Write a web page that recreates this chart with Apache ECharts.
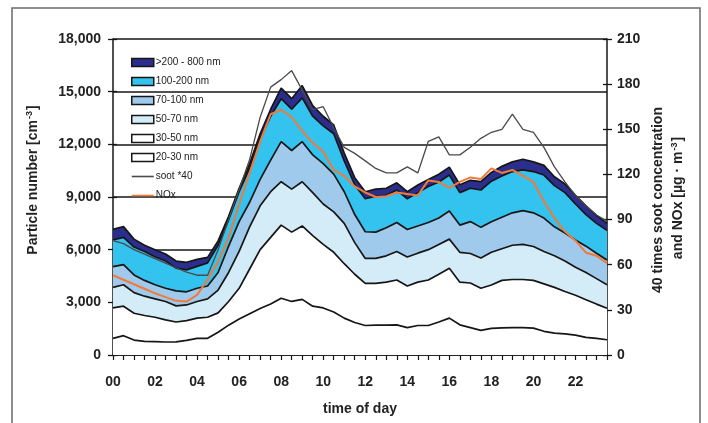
<!DOCTYPE html>
<html>
<head>
<meta charset="utf-8">
<script src="https://cdn.jsdelivr.net/npm/echarts@6/dist/echarts.min.js"></script>
<style>
  html, body { margin: 0; padding: 0; background: #fff; }
  #chart { width: 708px; height: 423px; }
</style>
</head>
<body>
<div id="chart"></div>
<script>
// Half-hourly time of day
const timeOfDay = [
  '00:00','00:30','01:00','01:30','02:00','02:30','03:00','03:30',
  '04:00','04:30','05:00','05:30','06:00','06:30','07:00','07:30',
  '08:00','08:30','09:00','09:30','10:00','10:30','11:00','11:30',
  '12:00','12:30','13:00','13:30','14:00','14:30','15:00','15:30',
  '16:00','16:30','17:00','17:30','18:00','18:30','19:00','19:30',
  '20:00','20:30','21:00','21:30','22:00','22:30','23:00','23:30'
];

// Particle number per size class [cm^-3], stacked from the smallest class up
const n20to30 = [950,1100,850,780,760,740,750,830,950,950,1300,1700,2050,2350,2650,2900,
  3230,3050,3170,2780,2680,2450,2100,1850,1680,1700,1700,1720,1560,1680,1680,1880,
  2100,1720,1560,1400,1520,1550,1560,1560,1530,1350,1250,1200,1130,1000,950,870];
const n30to50 = [1730,1680,1530,1470,1390,1260,1130,1130,1150,1200,1100,1350,1750,2550,3350,3800,
  4170,3950,4180,4020,3620,3400,3100,2750,2400,2380,2450,2550,2370,2470,2590,2720,
  2840,2430,2540,2400,2470,2700,2740,2740,2720,2700,2600,2420,2270,2150,1950,1790];
const n50to70 = [1170,1220,1170,1100,1050,1050,920,890,950,1050,1300,1650,2100,2400,2500,2600,
  2470,2450,2520,2450,2300,2300,2300,1800,1420,1420,1500,1630,1650,1650,1730,1700,
  1660,1700,1680,1730,1860,1800,1950,2000,1930,1850,1800,1730,1600,1550,1450,1340];
const n70to100 = [1180,1150,1010,900,800,750,850,750,750,730,1000,1500,1700,1400,1500,1800,
  2280,2200,2280,2150,2300,2150,1800,1600,1520,1500,1600,1650,1570,1550,1550,1500,
  1600,1550,1820,1740,1740,1800,1850,1920,1920,1900,1650,1600,1550,1500,1450,1410];
const n100to200 = [1520,1550,1590,1650,1600,1550,1300,1250,1250,1320,1550,1500,1700,1950,2300,2500,
  2450,2350,2500,2200,2150,2300,1750,1700,1880,2050,1850,1850,1750,1900,2050,2050,
  2050,1850,1900,2130,2310,2350,2350,2330,2350,2450,2350,2300,2050,1800,1700,1690];
const n200to800 = [610,610,450,350,400,400,400,430,400,310,250,200,200,250,300,400,
  600,600,700,600,550,500,450,400,400,400,400,410,400,430,400,450,
  450,450,450,480,500,550,550,600,550,550,500,500,500,500,450,400];

// Soot concentration x 40 and NOx [µg m^-3]
const soot40 = [76,74,70,67,64,61,58,55,53,53,70,90,110,130,158,178,
  183,189,176,163,165,151,138,134,129,124,121,121,125,121,142,145,
  133,133,138,144,148,150,160,150,148,138,125,115,106,99,93,89];
const nox = [53,50,47,44,41,38.5,36,35.5,40,50,62,78,100,121,142,160,
  163,158,149,141,135,123,119,112,108,105,105.5,108,107,106,116,115,
  111,115,118,117,124,121,123,119,115,102,91,82,76,68,66,61];

// Axis tick labels
const hourLabels = ['00','02','04','06','08','10','12','14','16','18','20','22'];
const particleTicks = ['0','3,000','6,000','9,000','12,000','15,000','18,000'];
const massTicks = ['0','30','60','90','120','150','180','210'];

const sizeClasses = [
  { name: '20-30 nm',      data: n20to30,   fill: '#ffffff' },
  { name: '30-50 nm',      data: n30to50,   fill: '#ffffff' },
  { name: '50-70 nm',      data: n50to70,   fill: '#d4ecf7' },
  { name: '70-100 nm',     data: n70to100,  fill: '#9fcaeb' },
  { name: '100-200 nm',    data: n100to200, fill: '#34c2ee' },
  { name: '>200 - 800 nm', data: n200to800, fill: '#2c2e8e' }
];

const FONT = '"Liberation Sans", Arial, sans-serif';
const INK = '#161616';
const SOOT = '#4a4a4a';
const NOX = '#f07a3a';
// thin horizontal bar used as the legend key of the two line series
const LINE_KEY = 'path://M0,0 H22 V1.6 H0 Z';

const areaSeries = sizeClasses.map(c => ({
  name: c.name,
  type: 'line',
  stack: 'particles',
  data: c.data,
  symbol: 'none',
  yAxisIndex: 0,
  color: c.fill,
  lineStyle: { color: INK, width: 1.7 },
  areaStyle: { color: c.fill, opacity: 1 },
  z: 2
}));

const legendData = sizeClasses.slice().reverse().map(c => ({
  name: c.name,
  icon: 'rect',
  itemStyle: { color: c.fill, borderColor: INK, borderWidth: 1.5 }
})).concat([
  { name: 'soot *40', icon: LINE_KEY, itemStyle: { color: SOOT, borderWidth: 0 } },
  { name: 'NOx', icon: LINE_KEY, itemStyle: { color: NOX, borderWidth: 0 } }
]);

// tick marks on the inner side of both value axes (ticks cross the axis line)
const innerTickAxis = (max, interval, position) => ({
  type: 'value',
  position: position,
  min: 0, max: max, interval: interval,
  axisLine: { show: false },
  axisTick: { show: true, inside: true, length: 4, lineStyle: { color: INK, width: 1.3 } },
  axisLabel: { show: false },
  splitLine: { show: false }
});

const chart = echarts.init(document.getElementById('chart'), null, { renderer: 'canvas' });

chart.setOption({
  backgroundColor: '#ffffff',
  animation: false,
  textStyle: { fontFamily: FONT },
  grid: { left: 113, right: 101, top: 39, bottom: 68, containLabel: false },
  legend: {
    orient: 'vertical',
    left: 126,
    top: 52,
    itemWidth: 22,
    itemHeight: 8,
    itemGap: 8,
    data: legendData,
    textStyle: { fontFamily: FONT, fontSize: 10, color: '#222', lineHeight: 11, padding: [0, 0, 0, -3] },
    selectedMode: false
  },
  xAxis: {
    type: 'category',
    data: timeOfDay,
    boundaryGap: false,
    axisLine: { lineStyle: { color: INK, width: 1.5 } },
    axisTick: { show: true, interval: 0, length: 5, lineStyle: { color: INK, width: 1.2 } },
    axisLabel: {
      interval: 3,
      margin: 20,
      fontSize: 14,
      fontWeight: 'bold',
      color: '#222',
      fontFamily: FONT,
      formatter: (v, i) => hourLabels[i / 4] || ''
    },
    splitLine: { show: false }
  },
  yAxis: [
    {
      type: 'value',
      min: 0, max: 18000, interval: 3000,
      axisLine: { show: true, lineStyle: { color: INK, width: 1.5 } },
      axisTick: { show: true, length: 5, lineStyle: { color: INK, width: 1.3 } },
      axisLabel: {
        margin: 12, fontSize: 14, fontWeight: 'bold', color: '#222', fontFamily: FONT,
        formatter: v => particleTicks[Math.round(v / 3000)]
      },
      splitLine: { show: true, lineStyle: { color: INK, width: 1.5 } }
    },
    {
      type: 'value',
      position: 'right',
      min: 0, max: 210, interval: 30,
      axisLine: { show: true, lineStyle: { color: INK, width: 1.5 } },
      axisTick: { show: true, length: 5, lineStyle: { color: INK, width: 1.3 } },
      axisLabel: {
        margin: 10, fontSize: 14, fontWeight: 'bold', color: '#222', fontFamily: FONT,
        formatter: v => massTicks[Math.round(v / 30)]
      },
      splitLine: { show: false }
    },
    innerTickAxis(18000, 3000, 'left'),
    innerTickAxis(210, 30, 'right')
  ],
  series: areaSeries.concat([
    {
      name: 'soot *40',
      type: 'line',
      data: soot40,
      yAxisIndex: 1,
      symbol: 'none',
      color: SOOT,
      lineStyle: { color: SOOT, width: 1.3 },
      z: 4
    },
    {
      name: 'NOx',
      type: 'line',
      data: nox,
      yAxisIndex: 1,
      symbol: 'none',
      color: NOX,
      lineStyle: { color: NOX, width: 2 },
      z: 5
    }
  ]),
  graphic: [
    {
      type: 'rect',
      shape: { x: 12, y: 8, width: 688, height: 440 },
      style: { fill: 'none', stroke: '#6a6a6a', lineWidth: 1.5 },
      silent: true, z: 0
    },
    {
      type: 'text',
      x: 33, y: 180,
      rotation: Math.PI / 2,
      style: {
        text: '{t|Particle number [cm}{s|-3}{t|]}',
        align: 'center', verticalAlign: 'middle',
        rich: {
          t: { fontFamily: FONT, fontSize: 14, fontWeight: 'bold', fill: '#222' },
          s: { fontFamily: FONT, fontSize: 9, fontWeight: 'bold', fill: '#222', verticalAlign: 'top', padding: [0, 1, 6, 1] }
        }
      },
      silent: true
    },
    {
      type: 'text',
      x: 658, y: 200,
      rotation: Math.PI / 2,
      style: {
        text: '40 times soot concentration',
        align: 'center', verticalAlign: 'middle',
        font: 'bold 14px ' + FONT, fill: '#222'
      },
      silent: true
    },
    {
      type: 'text',
      x: 678, y: 198,
      rotation: Math.PI / 2,
      style: {
        text: '{t|and NOx [µg · m}{s|-3}{t|]}',
        align: 'center', verticalAlign: 'middle',
        rich: {
          t: { fontFamily: FONT, fontSize: 14, fontWeight: 'bold', fill: '#222' },
          s: { fontFamily: FONT, fontSize: 9, fontWeight: 'bold', fill: '#222', verticalAlign: 'top', padding: [0, 1, 6, 1] }
        }
      },
      silent: true
    },
    {
      type: 'text',
      x: 360, y: 409,
      style: {
        text: 'time of day',
        align: 'center', verticalAlign: 'middle',
        font: 'bold 14px ' + FONT, fill: '#222'
      },
      silent: true
    }
  ]
});
</script>
</body>
</html>
